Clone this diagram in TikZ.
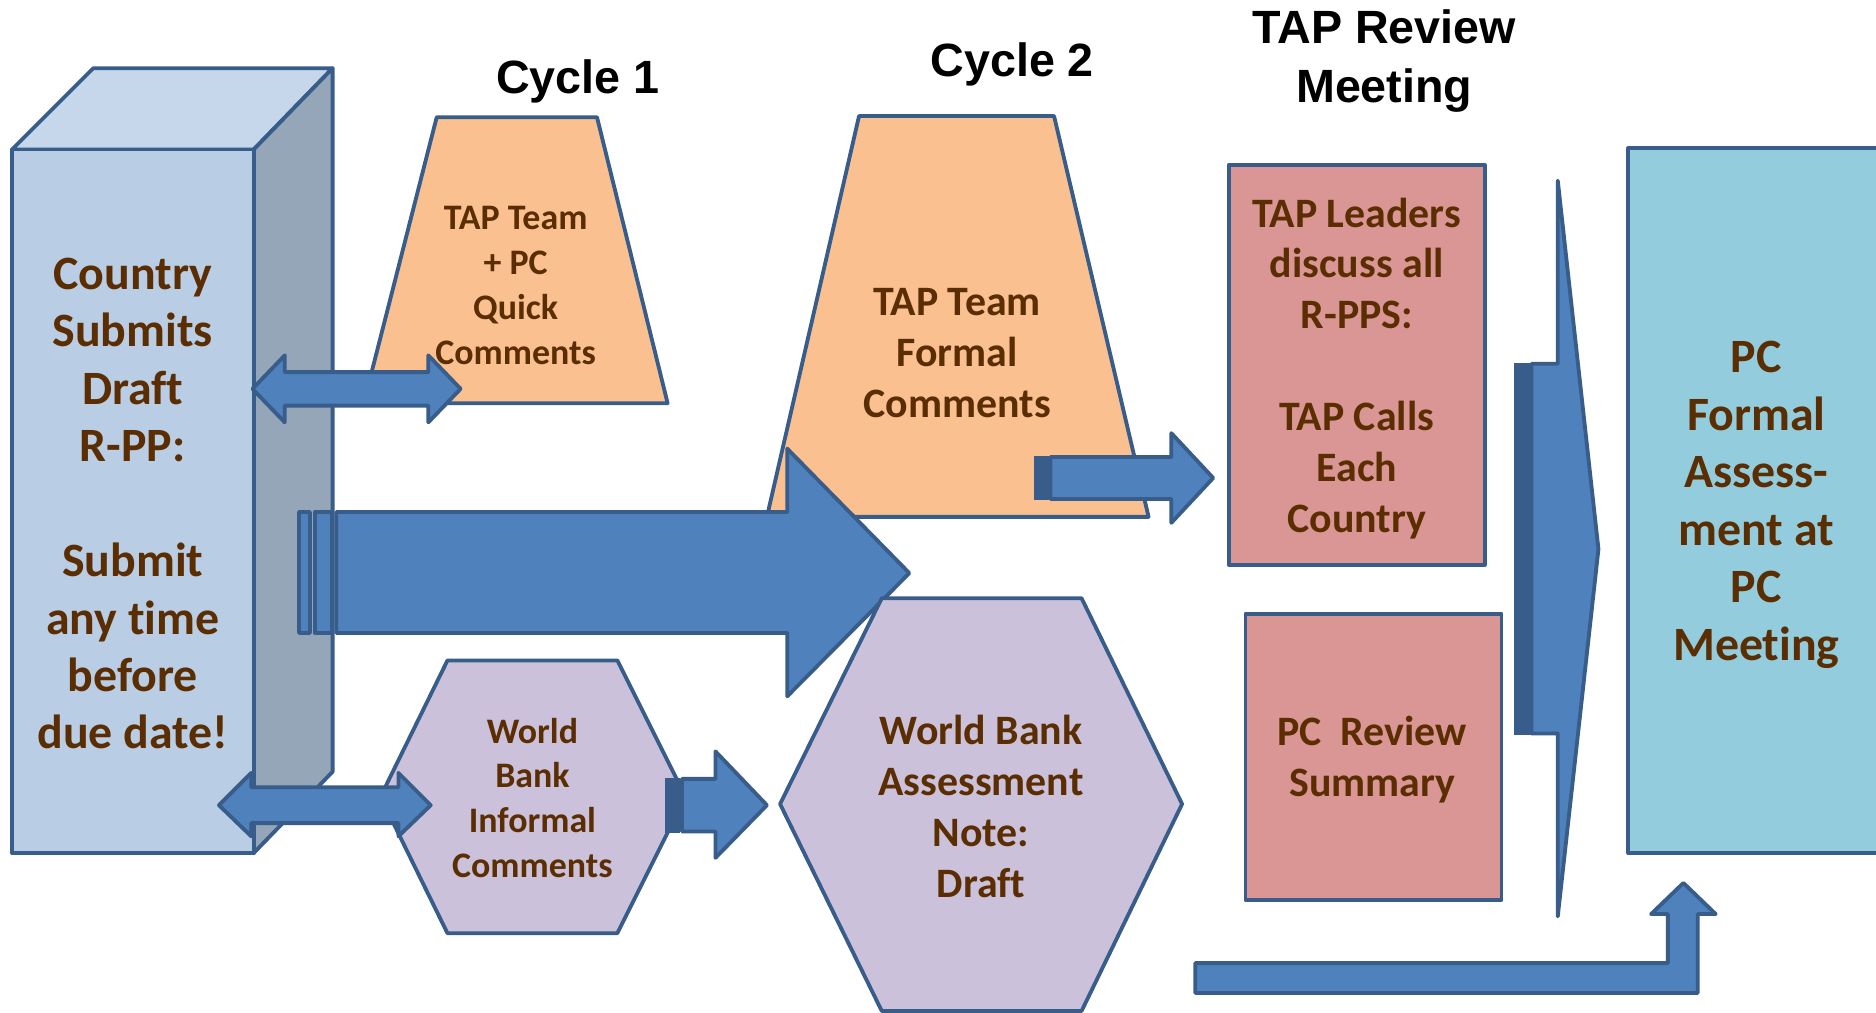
\documentclass[tikz,border=0pt]{standalone}
\usepackage{fontspec}
\setmainfont{Carlito}[Ligatures=CommonOff]
\newfontfamily\titlefont{Liberation Sans}
\definecolor{edgec}{HTML}{385D8A}
\definecolor{arrowc}{HTML}{4F81BD}
\definecolor{frontc}{HTML}{B9CDE5}
\definecolor{topc}{HTML}{C6D7EB}
\definecolor{sidec}{HTML}{95A6B9}
\definecolor{orangec}{HTML}{FAC090}
\definecolor{purplec}{HTML}{CCC1DA}
\definecolor{pinkc}{HTML}{D99694}
\definecolor{cyanc}{HTML}{93CDDD}
\definecolor{txtc}{HTML}{5A2E02}
\begin{document}
\begin{tikzpicture}[x=0.5pt,y=-0.5pt,
  outl/.style={draw=edgec, line width=1.6pt, line join=round},
  blockarrow/.style={fill=arrowc, draw=edgec, line width=1.6pt, line join=round},
  darkstripe/.style={fill=edgec, draw=edgec, line width=1pt},
  boxtext/.style={text=txtc, align=center, inner sep=0pt},
  big/.style={boxtext, font=\bfseries\fontsize{20}{24}\selectfont},
  mid/.style={boxtext, font=\bfseries\fontsize{17.5}{21.3}\selectfont},
  small/.style={boxtext, font=\bfseries\fontsize{15}{18.8}\selectfont},
  titletext/.style={align=center, inner sep=0pt, font=\titlefont\bfseries\fontsize{19.5}{24.5}\selectfont}
]
\path[use as bounding box, clip] (0,0) rectangle (1568,846);
\fill[white] (0,0) rectangle (1568,846);

% Country box (3D)
\draw[outl, fill=topc] (10,125) -- (78,57) -- (278,57) -- (212,125) -- cycle;
\draw[outl, fill=sidec] (212,125) -- (278,57) -- (278,645) -- (212,713) -- cycle;
\draw[outl, fill=frontc] (10,125) rectangle (212,713);
\node[big] (country) at (111,421) {Country\\Submits\\Draft\\R-PP:\\[24pt]Submit\\any time\\before\\due date!};

% titles
\node[titletext] (cyc1) at (483,68) {Cycle 1};
\node[titletext] (cyc2) at (846,54) {Cycle 2};
\node[titletext] (tapmeet) at (1157,51) {TAP Review\\Meeting};

% trapezoids
\draw[outl, fill=orangec] (304,337) -- (365,98) -- (499,98) -- (558,337) -- cycle;
\node[small] (quick) at (431,239) {TAP Team\\+ PC\\Quick\\Comments};
\draw[outl, fill=orangec] (641,432) -- (718,97) -- (881,97) -- (960,432) -- cycle;
\node[mid] (formal) at (800,295) {TAP Team\\Formal\\Comments};

% small hexagon
\draw[outl, fill=purplec] (318,666) -- (374,552) -- (516,552) -- (573,666) -- (516,780) -- (374,780) -- cycle;
\node[small] (informal) at (445,667) {World\\Bank\\Informal\\Comments};

% rectangles
\draw[outl, fill=pinkc] (1027,138) rectangle (1241,472);
\node[mid] (leaders) at (1134,308) {TAP Leaders\\discuss all\\R-PPS:\\[21.3pt]TAP Calls\\Each\\Country};
\draw[outl, fill=pinkc] (1041,513) rectangle (1255,752);
\node[mid] (review) at (1147,635) {PC\ \ Review\\Summary};
\draw[outl, fill=cyanc] (1361,124) rectangle (1590,713);
\node[big] (pcformal) at (1468,422) {PC\\Formal\\Assess-\\ment at\\PC\\Meeting};

% top double arrow
\draw[blockarrow] (211,325) -- (238,297) -- (238,311) -- (358,311) -- (358,297) -- (385,325) -- (358,353) -- (358,339) -- (238,339) -- (238,353) -- cycle;
% bottom double arrow
\draw[blockarrow] (183,673) -- (210,646) -- (210,658) -- (333,658) -- (333,646) -- (360,673) -- (333,699) -- (333,688) -- (210,688) -- (210,699) -- cycle;

% big striped arrow
\draw[blockarrow] (250,428) rectangle (259,529);
\draw[blockarrow] (263,428) rectangle (277,529);
\draw[blockarrow] (281,428) -- (658,428) -- (658,375) -- (760,479) -- (658,582) -- (658,529) -- (281,529) -- cycle;

% large hexagon
\draw[outl, fill=purplec] (652,672) -- (737,500) -- (904,500) -- (988,672) -- (904,845) -- (737,845) -- cycle;
\node[mid] (wbnote) at (820,674) {World Bank\\Assessment\\Note:\\Draft};

% arrow formal comments -> TAP leaders
\draw[darkstripe] (865,382) rectangle (877,417);
\draw[blockarrow] (878,382) -- (979,382) -- (979,362) -- (1014,399.5) -- (979,437) -- (979,417) -- (878,417) -- cycle;

% arrow informal -> WB note
\draw[darkstripe] (557,651) rectangle (567,695);
\draw[blockarrow] (570,651) -- (598,651) -- (598,628) -- (641,673) -- (598,717) -- (598,695) -- (570,695) -- cycle;

% tall chevron arrow
\draw[darkstripe] (1266,304) rectangle (1280,613);
\draw[blockarrow] (1280,304) -- (1302,304) -- (1302,151) -- (1336,459) -- (1302,766) -- (1302,613) -- (1280,613) -- cycle;

% bent arrow up to PC box
\draw[blockarrow] (999,805) -- (1394,805) -- (1394,764) -- (1380,764) -- (1407,738) -- (1434,764) -- (1419,764) -- (1419,830) -- (999,830) -- cycle;
\end{tikzpicture}
\end{document}
